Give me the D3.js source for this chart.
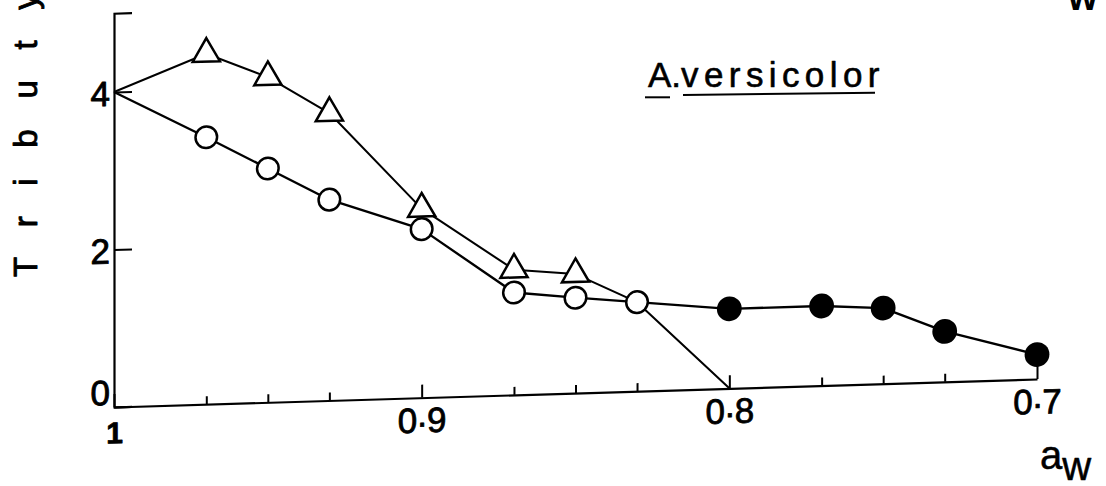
<!DOCTYPE html>
<html>
<head>
<meta charset="utf-8">
<script src="https://cdn.jsdelivr.net/npm/d3@7"></script>
<style>
  html, body { margin: 0; padding: 0; background: #fff; }
  svg { display: block; font-family: "Liberation Sans", Arial, Helvetica, sans-serif; }
</style>
</head>
<body>
<svg id="chart" width="1106" height="486"></svg>
<script>
// Water activity ticks (axis runs from 1 down to 0.7)
const xTicks = [1, 0.9, 0.8, 0.7];
const xMinorTicks = [0.97, 0.95, 0.93, 0.87, 0.85, 0.83, 0.77, 0.75, 0.73];
const yTicks = [0, 2, 4];

// Common starting point of both curves
const startAw = 1;
const startValue = 4;

// Triangle series
const triangleAw = [0.97, 0.95, 0.93, 0.9, 0.87, 0.85];
const triangleValues = [4.45, 4.13, 3.65, 2.40, 1.59, 1.51];
// the triangle curve runs on through the 0.83 circle and down to zero
const triangleTailAw = [0.83, 0.8];
const triangleTailValues = [1.13, 0];

// Open circle series
const openAw = [0.97, 0.95, 0.93, 0.9, 0.87, 0.85, 0.83];
const openValues = [3.39, 2.97, 2.55, 2.14, 1.30, 1.21, 1.13];

// Filled circle series (continues the open circle curve)
const filledAw = [0.8, 0.77, 0.75, 0.73, 0.7];
const filledValues = [1.01, 1.01, 0.96, 0.64, 0.31];

const svg = d3.select("#chart");

const x = d3.scaleLinear().domain([1, 0.7]).range([114, 1037]);
const y = d3.scaleLinear().domain([0, 5]).range([407, 13.25]);

// the hand-drawn frame has its abscissa rising slightly to the right
const tilt = -Math.atan(28 / 923) * 180 / Math.PI;
const plot = svg.append("g")
  .attr("transform", `translate(${x(1)},${y(0)}) skewY(${tilt}) translate(${-x(1)},${-y(0)})`);

// heavier lettering, like the printed figure
function inked(sel, w) {
  sel.attr("fill", "#000").attr("stroke", "#000").attr("stroke-width", w).attr("stroke-linejoin", "round");
}

// ---- axes ----
const xAxis = d3.axisBottom(x)
  .tickValues(xTicks)
  .tickSizeInner(-13)
  .tickSizeOuter(0)
  .tickPadding(10)
  .tickFormat(d3.format(".1f"));

const gx = plot.append("g")
  .attr("transform", `translate(0,${y(0)})`)
  .call(xAxis)
  .attr("font-size", null)
  .attr("font-family", null);
gx.select(".domain").attr("stroke", "#000").attr("stroke-width", 2.2);
gx.selectAll(".tick line").attr("stroke", "#000").attr("stroke-width", 2);
gx.selectAll(".tick text")
  .attr("font-size", 35)
  .call(inked, 0.8)
  .each(function (d) {
    const t = d3.select(this);
    if (d === 1) {
      t.text("1").attr("font-size", 30).attr("font-weight", "bold").attr("y", 15);
      return;
    }
    const parts = d3.format(".1f")(d).split(".");
    t.text(null);
    t.append("tspan").text(parts[0]);
    t.append("tspan").attr("dy", -6).text(".");
    t.append("tspan").attr("dy", 6).text(parts[1]);
  });

const gxMinor = plot.append("g")
  .attr("transform", `translate(0,${y(0)})`)
  .call(d3.axisBottom(x).tickValues(xMinorTicks).tickSizeInner(-8).tickSizeOuter(0).tickFormat(""));
gxMinor.select(".domain").remove();
gxMinor.selectAll(".tick line").attr("stroke", "#000").attr("stroke-width", 2);

const yAxis = d3.axisLeft(y)
  .tickValues(yTicks)
  .tickSizeInner(-18)
  .tickSizeOuter(-18)
  .tickPadding(4)
  .tickFormat(d3.format("d"));

const gy = plot.append("g")
  .attr("transform", `translate(${x(1)},0)`)
  .call(yAxis)
  .attr("font-size", null)
  .attr("font-family", null);
gy.select(".domain").attr("stroke", "#000").attr("stroke-width", 2.2);
gy.selectAll(".tick line").attr("stroke", "#000").attr("stroke-width", 2);
gy.selectAll(".tick text")
  .attr("font-size", 35)
  .call(inked, 0.9)
  .attr("dy", d => d === 0 ? "-0.08em" : "0.38em");

// ---- curves ----
const line = d3.line().x(d => x(d[0])).y(d => y(d[1]));

const trianglePath = [[startAw, startValue]]
  .concat(d3.zip(triangleAw, triangleValues))
  .concat(d3.zip(triangleTailAw, triangleTailValues));
const circlePath = [[startAw, startValue]]
  .concat(d3.zip(openAw, openValues))
  .concat(d3.zip(filledAw, filledValues));

plot.append("path")
  .datum(trianglePath)
  .attr("d", line)
  .attr("fill", "none")
  .attr("stroke", "#000")
  .attr("stroke-width", 2)
  .attr("stroke-linejoin", "round");

plot.append("path")
  .datum(circlePath)
  .attr("d", line)
  .attr("fill", "none")
  .attr("stroke", "#000")
  .attr("stroke-width", 2.3)
  .attr("stroke-linejoin", "round");

// ---- markers ----
const tri = d3.symbol().type(d3.symbolTriangle).size(320);
plot.append("g")
  .selectAll("path")
  .data(d3.zip(triangleAw, triangleValues))
  .join("path")
  .attr("d", tri)
  .attr("transform", d => `translate(${x(d[0])},${y(d[1])})`)
  .attr("fill", "#fff")
  .attr("stroke", "#000")
  .attr("stroke-width", 2.5)
  .attr("stroke-linejoin", "miter");

plot.append("g")
  .selectAll("circle")
  .data(d3.zip(openAw, openValues))
  .join("circle")
  .attr("cx", d => x(d[0]))
  .attr("cy", d => y(d[1]))
  .attr("r", 10.8)
  .attr("fill", "#fff")
  .attr("stroke", "#000")
  .attr("stroke-width", 2.5);

plot.append("g")
  .selectAll("circle")
  .data(d3.zip(filledAw, filledValues))
  .join("circle")
  .attr("cx", d => x(d[0]))
  .attr("cy", d => y(d[1]))
  .attr("r", 12.4)
  .attr("fill", "#000");

// ---- labels ----
const title = svg.append("text")
  .attr("x", 648)
  .attr("y", 87)
  .attr("font-size", 35)
  .call(inked, 0.6);
title.append("tspan").text("A.");
title.append("tspan").attr("letter-spacing", 5.4).text("versicolor");

svg.append("line")
  .attr("x1", 645).attr("y1", 97.3).attr("x2", 670).attr("y2", 97.3)
  .attr("stroke", "#000").attr("stroke-width", 2);
svg.append("line")
  .attr("x1", 683).attr("y1", 95).attr("x2", 875).attr("y2", 92.7)
  .attr("stroke", "#000").attr("stroke-width", 2);

svg.append("text")
  .attr("transform", "translate(37,277) rotate(-90)")
  .attr("font-size", 33)
  .attr("letter-spacing", 30.7)
  .call(inked, 0.9)
  .text("Tributy");

svg.append("text")
  .attr("x", 1068).attr("y", 10)
  .attr("font-size", 38)
  .attr("font-weight", "bold")
  .attr("fill", "#000")
  .text("w");

const xTitle = svg.append("text")
  .attr("x", 1040).attr("y", 469)
  .attr("font-size", 40)
  .call(inked, 0.5);
xTitle.append("tspan").text("a");
xTitle.append("tspan").attr("dy", 11).text("w");
</script>
</body>
</html>
